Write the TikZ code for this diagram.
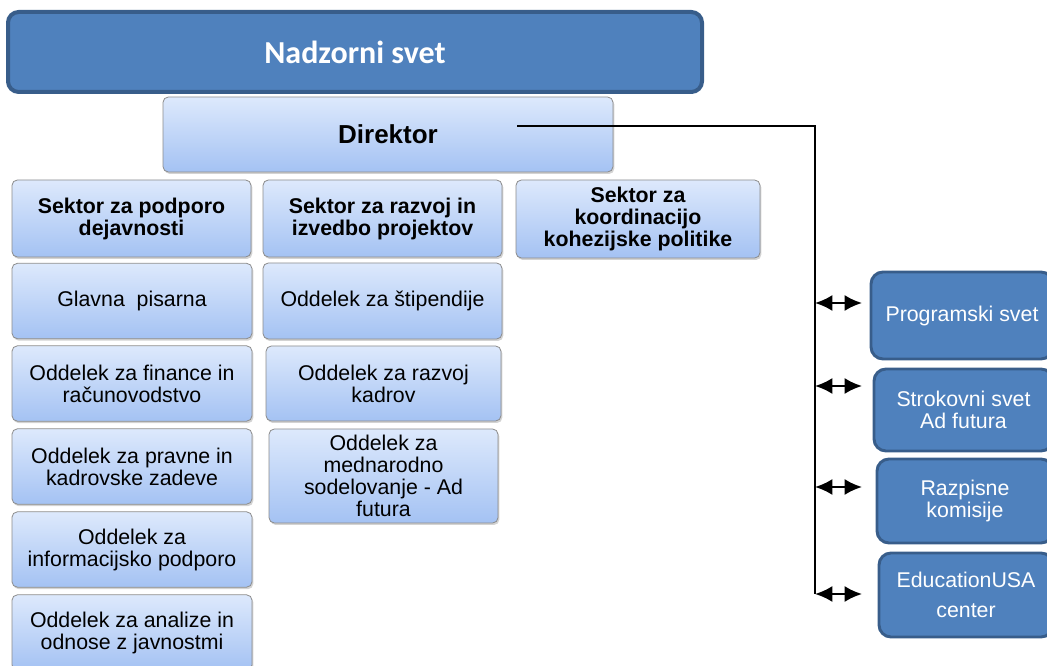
\documentclass[tikz,border=0pt]{standalone}
\usepackage{fontspec}
\setmainfont{Liberation Sans}
\newfontfamily\calibrifont{Carlito}
\usetikzlibrary{arrows.meta,shadows}
\definecolor{dkfill}{RGB}{79,129,189}
\definecolor{dkedge}{RGB}{56,93,138}
\definecolor{ltop}{RGB}{221,233,252}
\definecolor{lbot}{RGB}{164,194,243}
\tikzset{every picture/.style={line width=0.75pt}}

\begin{document}
\begin{tikzpicture}[x=0.75pt,y=0.75pt,yscale=-1,xscale=1,
    lbox/.style={draw=black!45, line width=0.6pt, rounded corners=4pt, top color=ltop, bottom color=lbot, drop shadow={shadow xshift=1pt,shadow yshift=-1.5pt,opacity=0.35}, align=center, inner sep=1pt, font=\fontsize{16}{16.5}\selectfont},
    sbox/.style={lbox, font=\fontsize{16}{16.5}\selectfont\bfseries},
    dbox/.style={draw=dkedge, line width=2.2pt, fill=dkfill, rounded corners=9pt, text=white, align=center, inner sep=1pt, font=\fontsize{16}{16.5}\selectfont},
    biarrow/.style={{Latex[length=13pt,width=12pt]}-{Latex[length=13pt,width=12pt]}, line width=1.6pt}
  ]
    \clip (0,0) rectangle (1047,666);

    % Top of the chart
    \node [dbox, line width=3pt, rounded corners=8pt, minimum width=520.5pt, minimum height=60pt, font=\calibrifont\bfseries\fontsize{24}{26}\selectfont] (nadzor) at (355,52) {Nadzorni svet};
    \node [lbox, minimum width=337.5pt, minimum height=56.25pt, font=\fontsize{19.5}{21}\selectfont\bfseries] (direktor) at (388,134.5) {Direktor};

    % Sectors
    \node [sbox, minimum width=179.25pt, minimum height=57.75pt] (sekPod) at (131.5,218.5) {Sektor za podporo\\dejavnosti};
    \node [sbox, minimum width=179.25pt, minimum height=57.75pt] (sekRaz) at (382.5,218.5) {Sektor za razvoj in\\izvedbo projektov};
    \node [sbox, minimum width=183pt, minimum height=58.5pt] (sekKoh) at (638,219) {Sektor za\\koordinacijo\\kohezijske politike};

    % Departments, first column
    \node [lbox, minimum width=180pt, minimum height=56.5pt] (pisarna) at (132,301) {Glavna~ pisarna};
    \node [lbox, minimum width=180pt, minimum height=56.5pt] (finance) at (132,383.5) {Oddelek za finance in\\računovodstvo};
    \node [lbox, minimum width=180pt, minimum height=56.5pt] (pravne) at (132,466.5) {Oddelek za pravne in\\kadrovske zadeve};
    \node [lbox, minimum width=180pt, minimum height=56.5pt] (informacije) at (132,549.5) {Oddelek za\\informacijsko podporo};
    \node [lbox, minimum width=180pt, minimum height=56.5pt] (analize) at (132,632.5) {Oddelek za analize in\\odnose z javnostmi};

    % Departments, second column
    \node [lbox, minimum width=179.25pt, minimum height=57pt] (stipendije) at (382.5,301) {Oddelek za štipendije};
    \node [lbox, minimum width=176.25pt, minimum height=56.25pt] (kadri) at (383.5,383.5) {Oddelek za razvoj\\kadrov};
    \node [lbox, minimum width=171.75pt, minimum height=70.5pt] (mednarodno) at (383.5,476) {Oddelek za\\mednarodno\\sodelovanje - Ad\\futura};

    % Councils and commissions
    \node [dbox, minimum width=136.5pt, minimum height=65.25pt] (prog) at (962,315.5) {Programski svet};
    \node [dbox, minimum width=134.25pt, minimum height=61.5pt] (strok) at (963.5,410) {Strokovni svet\\Ad futura};
    \node [dbox, minimum width=132pt, minimum height=63pt] (razp) at (965,501) {Razpisne\\komisije};
    \node [dbox, minimum width=130.5pt, minimum height=63pt] (edu) at (966,595) {EducationUSA\\[6pt]center};

    % Connectors
    \coordinate (dirOut) at (517,126);
    \coordinate (busEnd) at (815,594);
    \draw [line width=1.1pt] (dirOut) -- (dirOut -| busEnd) -- (busEnd);
    \foreach \y in {303,386,487,594}
      \draw [biarrow] (busEnd |- 0,\y) -- ++(47,0);

\end{tikzpicture}
\end{document}
